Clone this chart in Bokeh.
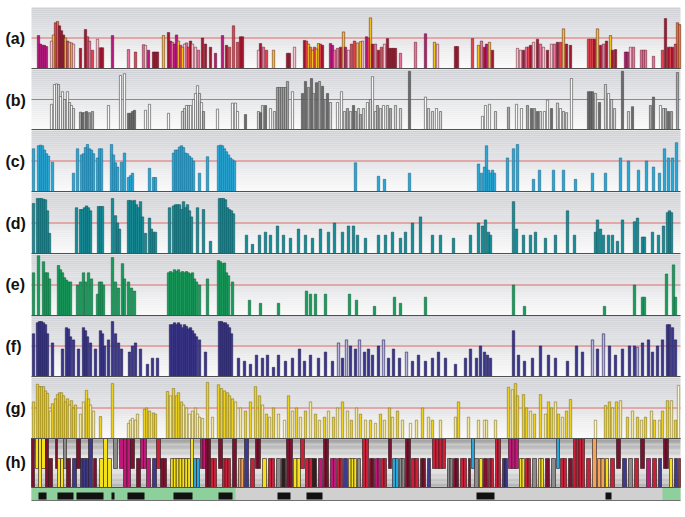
import numpy as np
from bokeh.plotting import figure
from bokeh.models import Range1d, ColumnDataSource, Label
from bokeh.embed import file_html
from bokeh.resources import INLINE

# ---------------- data ----------------
panel_labels = ["(a)", "(b)", "(c)", "(d)", "(e)", "(f)", "(g)", "(h)"]

a_x = [38, 40, 42, 44, 46, 51, 53, 55, 57, 59, 61, 63, 65, 67, 69, 71, 73, 80, 85, 87, 89, 92, 97, 100, 102,
       112, 128, 135, 143, 145, 148, 153, 155, 157, 163, 168, 170, 172, 174, 176, 178, 180, 182, 184, 186, 188,
       190, 192, 195, 198, 202, 205, 210, 215, 222, 226, 229, 233, 237, 240, 242, 258, 260, 263, 266, 273, 287,
       289, 294, 304, 306, 308, 310, 312, 314, 316, 318, 320, 322, 330, 332, 334, 337, 340, 343, 345, 348, 351,
       354, 357, 360, 362, 366, 368, 370, 372, 375, 378, 381, 384, 387, 389, 391, 393, 395, 400, 415, 425, 434,
       437, 455, 457, 472, 478, 481, 484, 486, 489, 492, 517, 520, 523, 526, 528, 530, 533, 537, 540, 543, 547,
       551, 554, 557, 560, 563, 566, 570, 588, 590, 592, 594, 597, 600, 603, 606, 610, 612, 615, 625, 627, 630,
       633, 641, 643, 645, 653, 662, 665, 668, 670, 672, 675, 677, 679]
a_h = [.54, .40, .38, .38, .36, .45, .55, .75, .77, .70, .62, .55, .50, .45, .43, .42, .40, .33, .64, .52, .45, .30,
       .48, .34, .34, .54, .31, .27, .39, .38, .30, .27, .27, .27, .54, .59, .45, .43, .40, .55, .45, .38, .35, .40,
       .42, .35, .45, .40, .35, .30, .50, .40, .35, .25, .54, .38, .35, .70, .43, .52, .52, .30, .41, .35, .30, .30,
       .25, .25, .35, .46, .45, .40, .35, .30, .35, .32, .41, .40, .38, .41, .38, .30, .33, .35, .60, .35, .30, .40,
       .45, .42, .44, .45, .52, .50, .83, .40, .40, .30, .35, .40, .49, .33, .33, .33, .33, .25, .43, .57, .43, .40,
       .36, .36, .49, .38, .45, .35, .40, .43, .30, .33, .30, .30, .35, .35, .38, .43, .48, .40, .35, .30, .40, .40,
       .43, .43, .65, .40, .38, .48, .48, .48, .48, .65, .38, .40, .45, .54, .30, .31, .27, .27, .35, .35, .30, .30,
       .30, .20, .30, .82, .35, .35, .35, .40, .75, .72]
a_c = ("MMMMM" "LYRODDDYRLYL" "DDRPRLDD" "MPRPLMDDD" "YDMPMMYRYLPRDLLP" "DDDMMDRRRDD" "LDPRYDDL"
       "DRYOYRYYRD" "MMPPDYMLRRYYLMRYDPDRLDDDDDP" "PMYLDD" "RYPDMYD" "LLDPRDLDPLDLPDRYDD"
       "RRRDYDPDYDD" "MMLPPPPP" "RDDRDROO")

b_x = [51, 54, 56, 58, 60, 62, 64, 67, 69, 71, 73, 80, 82, 84, 86, 89, 92, 108, 120, 124, 128, 130, 132, 134,
       145, 149, 168, 182, 184, 186, 188, 190, 193, 195, 197, 199, 201, 203, 217, 232, 235, 237, 245, 258, 260,
       262, 265, 270, 274, 277, 279, 281, 283, 285, 287, 292, 302, 305, 308, 311, 313, 316, 319, 322, 325, 327,
       330, 337, 341, 344, 347, 350, 353, 355, 358, 360, 363, 367, 370, 372, 375, 377, 380, 383, 387, 390, 395,
       400, 409, 425, 428, 432, 436, 440, 482, 485, 489, 495, 508, 516, 521, 527, 531, 534, 537, 540, 544, 547,
       551, 557, 560, 563, 566, 571, 588, 590, 592, 595, 599, 605, 608, 611, 614, 622, 628, 632, 650, 653, 660,
       663, 665, 668, 671, 677]
b_h = [.42, .75, .76, .75, .55, .63, .50, .63, .45, .40, .35, .29, .28, .28, .30, .28, .30, .40, .90, .93, .27, .27,
       .30, .32, .32, .42, .27, .30, .35, .40, .40, .40, .50, .60, .73, .60, .45, .30, .34, .44, .44, .30, .25, .30,
       .28, .40, .40, .35, .30, .70, .70, .70, .70, .70, .80, .63, .60, .80, .70, .85, .60, .78, .80, .72, .50, .60,
       .45, .45, .63, .30, .35, .30, .40, .30, .35, .25, .35, .45, .50, .88, .30, .40, .35, .40, .40, .35, .40, .35,
       .97, .54, .35, .30, .35, .30, .22, .40, .42, .30, .37, .42, .35, .40, .35, .35, .30, .30, .30, .49, .35, .44,
       .35, .30, .28, .85, .63, .63, .63, .60, .45, .75, .60, .50, .35, .97, .30, .38, .40, .54, .40, .35, .35, .30,
       .30, .95]
b_s = [0, 0, 0, 1, 0, 0, 1, 0, 1, 0, 1, 2, 3, 2, 3, 2, 2, 0, 0, 0, 3, 3, 3, 3, 0, 0, 0, 1, 1, 0, 1, 0, 0, 0, 0, 1,
       0, 2, 0, 0, 0, 0, 3, 1, 3, 1, 3, 0, 1, 2, 2, 2, 2, 2, 2, 0, 3, 3, 2, 3, 2, 3, 2, 3, 2, 3, 1, 0, 0, 1, 2, 1,
       3, 2, 1, 2, 1, 0, 1, 0, 1, 2, 1, 0, 1, 2, 1, 1, 3, 0, 1, 1, 0, 1, 0, 0, 0, 1, 2, 0, 0, 2, 3, 2, 3, 1, 0, 0,
       3, 1, 0, 1, 1, 0, 3, 3, 3, 1, 3, 1, 0, 1, 1, 3, 1, 3, 2, 3, 0, 1, 2, 3, 2, 2]

c_x = [33, 38, 40, 42, 44, 46, 48, 52, 73, 77, 81, 83, 85, 87, 89, 91, 93, 97, 99, 101, 111, 113, 115, 117, 121,
       124, 128, 130, 132, 149, 153, 155, 173, 175, 177, 179, 181, 183, 185, 187, 189, 191, 193, 199, 207, 218,
       220, 222, 224, 226, 228, 230, 232, 234, 355, 378, 384, 409, 478, 481, 484, 486, 488, 490, 492, 494, 507,
       513, 517, 533, 539, 553, 563, 575, 592, 605, 620, 628, 638, 646, 653, 659, 664, 668, 672, 676]
c_h = [.70, .75, .76, .75, .68, .62, .58, .48, .30, .70, .60, .62, .72, .77, .70, .68, .62, .55, .70, .70, .77, .60,
       .47, .40, .48, .63, .23, .26, .30, .38, .23, .23, .63, .68, .68, .73, .75, .72, .63, .62, .58, .55, .50, .30,
       .57, .75, .76, .75, .70, .65, .60, .55, .52, .50, .47, .25, .20, .30, .45, .30, .40, .75, .35, .30, .35, .30,
       .55, .70, .77, .20, .35, .35, .35, .20, .30, .30, .55, .50, .35, .50, .40, .30, .70, .55, .55, .80]

d_x = [33, 37, 39, 41, 43, 45, 47, 49, 76, 80, 82, 84, 86, 88, 90, 98, 100, 102, 112, 115, 117, 119, 128, 130,
       132, 134, 136, 138, 140, 142, 145, 149, 151, 153, 155, 169, 173, 175, 177, 179, 181, 183, 185, 187, 189,
       191, 197, 203, 210, 219, 221, 223, 225, 227, 229, 231, 233, 246, 252, 259, 265, 270, 277, 283, 290, 298,
       305, 312, 320, 328, 334, 342, 348, 353, 357, 365, 378, 385, 392, 400, 405, 412, 420, 432, 440, 453, 470,
       478, 482, 485, 488, 490, 513, 516, 523, 530, 535, 545, 555, 567, 574, 595, 597, 600, 603, 608, 612, 617,
       622, 634, 637, 642, 644, 652, 658, 663, 667, 669, 671]
d_h = [.82, .90, .90, .90, .89, .88, .70, .33, .75, .72, .72, .75, .78, .75, .70, .77, .77, .77, .90, .62, .50, .40,
       .87, .87, .86, .87, .80, .75, .85, .60, .33, .58, .40, .35, .35, .75, .78, .80, .80, .80, .72, .85, .75, .80,
       .70, .60, .75, .72, .20, .90, .90, .90, .88, .75, .72, .70, .65, .30, .15, .30, .35, .30, .45, .30, .25, .40,
       .30, .25, .40, .35, .50, .35, .45, .45, .30, .25, .30, .30, .35, .25, .35, .50, .60, .30, .30, .25, .30, .50,
       .45, .55, .35, .30, .85, .40, .30, .30, .35, .25, .30, .70, .30, .35, .55, .40, .30, .30, .30, .20, .55, .52,
       .58, .27, .27, .35, .30, .45, .67, .70, .67]

e_x = [33, 38, 43, 45, 47, 49, 58, 60, 62, 64, 66, 68, 70, 77, 80, 83, 85, 88, 91, 97, 99, 101, 103, 112, 115,
       118, 122, 124, 128, 131, 134, 168, 170, 172, 174, 176, 178, 180, 182, 184, 186, 188, 190, 192, 194, 196,
       199, 207, 218, 220, 222, 224, 226, 228, 232, 249, 260, 278, 306, 310, 315, 325, 349, 356, 374, 394, 400,
       425, 513, 524, 604, 634, 642, 644, 666, 673, 675]
e_h = [.70, .98, .88, .70, .70, .60, .82, .75, .70, .62, .58, .55, .55, .50, .55, .70, .55, .70, .60, .35, .55, .55,
       .50, .95, .55, .45, .85, .60, .55, .45, .40, .70, .72, .70, .75, .72, .75, .70, .72, .70, .72, .70, .68, .70,
       .60, .55, .50, .60, .90, .88, .85, .86, .70, .65, .55, .25, .20, .20, .40, .35, .35, .35, .35, .25, .15, .30,
       .20, .30, .50, .15, .15, .50, .30, .30, .68, .83, .30]

f_x = [33, 37, 39, 41, 43, 45, 47, 52, 62, 66, 68, 70, 73, 78, 83, 85, 87, 90, 95, 100, 102, 104, 108, 112, 115,
       118, 121, 129, 132, 135, 140, 147, 152, 157, 170, 172, 174, 176, 178, 180, 182, 184, 186, 188, 190, 192,
       194, 196, 199, 205, 219, 221, 223, 225, 227, 229, 231, 238, 244, 250, 256, 262, 267, 273, 278, 285, 292,
       299, 304, 310, 318, 325, 332, 338, 342, 346, 350, 355, 359, 364, 368, 372, 378, 383, 388, 393, 399, 406,
       412, 418, 425, 432, 438, 445, 455, 465, 470, 476, 480, 484, 487, 490, 513, 518, 524, 532, 540, 548, 555,
       567, 576, 582, 592, 597, 603, 609, 615, 622, 629, 634, 637, 642, 648, 652, 657, 662, 667, 669, 672, 675]
f_h = [.70, .88, .90, .90, .88, .85, .70, .55, .45, .80, .78, .65, .60, .45, .80, .75, .65, .55, .45, .75, .70, .50,
       .60, .90, .70, .55, .45, .40, .50, .55, .45, .20, .30, .30, .85, .85, .88, .85, .88, .85, .80, .85, .82, .78,
       .80, .75, .70, .65, .60, .40, .90, .90, .88, .88, .85, .80, .70, .30, .25, .20, .35, .30, .35, .15, .35, .25,
       .30, .45, .25, .35, .30, .40, .25, .55, .30, .60, .50, .45, .60, .40, .45, .35, .50, .60, .30, .45, .30, .40,
       .25, .35, .25, .30, .40, .30, .20, .30, .45, .30, .50, .40, .35, .30, .75, .35, .25, .30, .50, .35, .30, .25,
       .50, .40, .60, .45, .70, .50, .35, .45, .50, .50, .48, .55, .60, .40, .50, .60, .85, .85, .80, .60]
f_light = [338, 346, 359, 383, 406, 592, 603, 637]

g_x = [33, 37, 39, 41, 43, 45, 47, 50, 52, 55, 57, 59, 61, 63, 65, 67, 69, 71, 73, 75, 80, 83, 86, 88, 90, 93,
       100, 112, 128, 130, 132, 135, 137, 144, 146, 149, 153, 155, 167, 170, 173, 176, 178, 181, 183, 186, 189,
       192, 195, 197, 199, 202, 207, 212, 218, 221, 224, 227, 229, 232, 235, 240, 245, 250, 255, 259, 262, 266,
       269, 273, 278, 284, 288, 292, 296, 300, 305, 310, 315, 319, 324, 328, 333, 337, 342, 347, 351, 356, 360,
       365, 370, 375, 380, 384, 389, 392, 397, 402, 410, 416, 422, 428, 432, 440, 455, 458, 468, 478, 484, 486,
       495, 508, 512, 515, 517, 523, 526, 530, 534, 540, 545, 548, 551, 555, 558, 562, 566, 570, 595, 605, 609,
       612, 616, 620, 627, 632, 637, 641, 645, 651, 654, 659, 662, 667, 671, 675, 678]
g_h = [.60, .89, .85, .85, .85, .78, .74, .45, .57, .65, .72, .75, .75, .70, .60, .65, .55, .62, .50, .55, .40, .60,
       .79, .65, .55, .45, .36, .90, .25, .30, .33, .30, .40, .48, .50, .45, .42, .40, .77, .70, .82, .70, .75, .60,
       .55, .50, .40, .45, .50, .40, .35, .33, .92, .35, .88, .82, .78, .75, .70, .65, .60, .50, .45, .60, .85, .70,
       .55, .40, .35, .50, .40, .30, .70, .45, .50, .35, .45, .60, .40, .30, .35, .45, .35, .50, .60, .45, .30, .50,
       .40, .30, .30, .25, .40, .30, .50, .35, .45, .30, .25, .30, .50, .35, .30, .30, .35, .60, .35, .30, .30, .30,
       .30, .84, .80, .90, .70, .72, .50, .45, .40, .72, .40, .60, .50, .60, .40, .35, .45, .64, .30, .54, .60, .50,
       .60, .62, .35, .45, .35, .30, .35, .45, .30, .30, .45, .62, .62, .30, .87]
g_s = [0, 0, 0, 0, 0, 0, 0, 1, 0, 0, 0, 0, 0, 0, 0, 0, 1, 0, 0, 0, 1, 1, 0, 0, 1, 1, 0, 0, 1, 1, 2, 1, 1, 0, 0, 0,
       0, 0, 0, 1, 0, 0, 0, 0, 1, 1, 2, 1, 1, 2, 1, 1, 0, 1, 0, 0, 0, 0, 0, 0, 1, 1, 0, 0, 0, 0, 1, 0, 1, 0, 1, 2,
       0, 1, 0, 1, 0, 1, 0, 1, 0, 1, 0, 1, 0, 1, 0, 1, 0, 1, 0, 1, 0, 1, 0, 1, 0, 1, 2, 1, 0, 1, 0, 1, 1, 0, 1, 1,
       2, 1, 1, 0, 1, 0, 0, 0, 0, 1, 0, 0, 1, 0, 0, 1, 0, 1, 0, 0, 2, 0, 0, 1, 0, 1, 0, 1, 0, 1, 0, 1, 0, 1, 0, 0,
       1, 0, 2]

h_x0 = [31, 35, 38, 41, 45, 48, 55, 57, 63, 66, 72, 76, 80, 88, 93, 99, 103, 107, 113, 119, 123, 130, 136, 140,
        146, 152, 156, 160, 170, 190, 193, 200, 205, 210, 218, 222, 232, 238, 244, 250, 255, 262, 268, 276, 281,
        286, 293, 300, 305, 312, 318, 323, 330, 337, 343, 348, 357, 362, 369, 375, 381, 388, 392, 399, 405, 411,
        420, 427, 432, 447, 453, 460, 468, 471, 474, 479, 483, 488, 495, 502, 508, 519, 525, 532, 538, 545, 551,
        556, 560, 568, 573, 586, 592, 597, 605, 610, 616, 622, 628, 634, 640, 646, 652, 658, 663, 669, 674, 678]
h_x1 = [34, 38, 41, 45, 48, 52, 57, 63, 66, 70, 76, 80, 88, 92, 96, 103, 107, 111, 117, 123, 130, 134, 140, 146,
        150, 156, 160, 166, 190, 193, 199, 205, 210, 216, 222, 230, 236, 243, 248, 254, 260, 266, 274, 280, 285,
        292, 300, 304, 312, 316, 322, 328, 336, 342, 347, 356, 360, 368, 374, 380, 386, 391, 398, 404, 410, 418,
        425, 430, 445, 452, 458, 466, 470, 474, 478, 482, 487, 493, 500, 507, 518, 524, 530, 536, 543, 549, 555,
        559, 566, 572, 584, 590, 596, 604, 608, 614, 620, 626, 632, 638, 644, 650, 656, 661, 668, 672, 677, 680]
h_c = ("DYYYDDDYGD" "BDBBDYYYGM" "MDDMMBCDYY" "TMDCDCDOBC" "DYCGKDYCCK"
       "MDMCBYGCDM" "CDTGDCDBCG" "DCDTGYDCCB" "MYCGYDGTCD" "CCOOYCDBGC" "DMCBDYBC")
h_lv = ("2020210101" "1012112100" "2010110112" "1021012121" "0111121011"
        "1211111211" "1011211101" "1110111121" "0111111011" "2121110111" "01110111")

strip_green_x0 = [31, 662]
strip_green_x1 = [235, 680]
strip_black_x0 = [38, 57, 76, 111, 127, 173, 218, 277, 306, 476, 605]
strip_black_x1 = [46, 73, 103, 114, 144, 192, 232, 290, 322, 494, 611]

# ---------------- layout / styles ----------------
X0, X1 = 31, 680
panel_top = [7, 69, 130, 192, 254, 315, 377]
panel_base = [68, 129, 191, 253, 315, 376, 438]
h_top, h_mid_lo, h_mid_hi, h_base = 438, 458, 468, 487
strip_top, strip_bot = 487, 500
label_y = [38, 100, 161, 223, 284, 346, 408, 462]

A_COL = {"M": "#b5197f", "D": "#a0172f", "R": "#e2434c", "P": "#e8739f", "L": "#f5c3cf",
         "Y": "#f1c21c", "O": "#e5812a"}
B_COL = ["#f7f7f7", "#d3d3d3", "#a4a4a4", "#6a6a6a"]
G_COL = ["#ecd11e", "#f1e79e", "#faf6d6"]
H_COL = {"Y": "#f2e11c", "D": "#7b1230", "M": "#c2187c", "B": "#3b3a8e", "T": "#26a8da",
         "G": "#8c8c8c", "O": "#f2a55a", "C": "#cb2039", "K": "#2a2020"}


def hex2rgb(h):
    h = h.lstrip("#")
    return np.array([int(h[i:i + 2], 16) for i in (0, 2, 4)], float)


def mix(c1, c2, t):
    a, b = hex2rgb(c1), hex2rgb(c2)
    c = a + (b - a) * t
    return "#%02x%02x%02x" % tuple(int(round(v)) for v in c)


p = figure(width=682, height=503, x_range=Range1d(0, 682), y_range=Range1d(503, 0),
           x_axis_type=None, y_axis_type=None, output_backend="svg", toolbar_location=None,
           min_border=0)
p.grid.visible = False
p.outline_line_color = None
p.background_fill_color = "white"
p.border_fill_color = "white"


def gradient(top, base, c_top, c_bot, n=30):
    edges = np.linspace(top, base, n + 1)
    cols = [mix(c_top, c_bot, (i + 0.5) / n) for i in range(n)]
    p.quad(left=X0, right=X1, top=edges[:-1], bottom=edges[1:], fill_color=cols, line_color=None)


def draw_bars(xs, hs, fills, line, top, base, w=2.4, lw=0.6):
    n = min(len(xs), len(hs), len(fills))
    xs = np.asarray(xs[:n], float)
    hs = np.asarray(hs[:n], float)
    fills = list(fills[:n])
    o = np.argsort(-hs, kind="stable")
    xs, hs = xs[o], hs[o]
    fills = [fills[i] for i in o]
    src = ColumnDataSource(dict(left=xs - w / 2, right=xs + w / 2,
                                top=base - hs * (base - top),
                                bottom=np.full(n, float(base)), fill=fills))
    p.quad(left="left", right="right", top="top", bottom="bottom", fill_color="fill",
           line_color=line, line_width=lw, source=src)


# backgrounds + red reference lines
for t, b in zip(panel_top, panel_base):
    gradient(t, b, "#cfd0d5", "#fafafa")
    p.segment(x0=X0, x1=X1, y0=(t + b) / 2, y1=(t + b) / 2, line_color="#e06a6a", line_width=1)

draw_bars(a_x, a_h, [A_COL[c] for c in a_c], "#5a1424", panel_top[0], panel_base[0], w=2.4, lw=0.5)
draw_bars(b_x, b_h, [B_COL[s] for s in b_s], "#4a4a4a", panel_top[1], panel_base[1], w=2.2, lw=0.6)
draw_bars(c_x, c_h, ["#2ba7d6"] * len(c_x), "#176c8f", panel_top[2], panel_base[2], w=2.4)
draw_bars(d_x, d_h, ["#178b96"] * len(d_x), "#0c5860", panel_top[3], panel_base[3], w=2.4)
draw_bars(e_x, e_h, ["#1b9a5c"] * len(e_x), "#0e6a3c", panel_top[4], panel_base[4], w=2.4)
draw_bars(f_x, f_h, ["#b9b6dc" if x in f_light else "#3a3689" for x in f_x], "#221f5a",
          panel_top[5], panel_base[5], w=2.4)
draw_bars(g_x, g_h, [G_COL[s] for s in g_s], "#857426", panel_top[6], panel_base[6], w=2.4, lw=0.6)

for b in panel_base:
    p.segment(x0=X0, x1=X1, y0=b, y1=b, line_color="#505050", line_width=1.2)

# panel (h)
gradient(h_top, 462, "#9e9e9e", "#f2f2f2", n=20)
gradient(462, h_base, "#f6f6f6", "#b0b0b0", n=20)
lv_top = {"0": h_top, "1": h_mid_lo, "2": h_top}
lv_bot = {"0": h_mid_hi, "1": h_base, "2": h_base}
sl, sr, st, sb, sc = [], [], [], [], []
for x0, x1, c, lv in zip(h_x0, h_x1, h_c, h_lv):
    k = max(1, int(round((x1 - x0) / 3.0)))
    ed = np.linspace(x0, x1, k + 1)
    for i in range(k):
        sl.append(ed[i]); sr.append(ed[i + 1])
        st.append(lv_top[lv]); sb.append(lv_bot[lv]); sc.append(H_COL[c])
p.quad(left=sl, right=sr, top=st, bottom=sb, fill_color=sc, line_color="#2a1818", line_width=0.6)
p.segment(x0=X0, x1=X1, y0=h_top, y1=h_top, line_color="#505050", line_width=1)

# bottom strip
p.quad(left=X0, right=X1, top=strip_top, bottom=strip_bot, fill_color="#d0d0d0", line_color=None)
p.quad(left=strip_green_x0, right=strip_green_x1, top=strip_top, bottom=strip_bot,
       fill_color="#8ed09c", line_color=None)
p.quad(left=strip_black_x0, right=strip_black_x1, top=492, bottom=499,
       fill_color="#111111", line_color=None)
p.segment(x0=X0, x1=X1, y0=strip_top, y1=strip_top, line_color="#505050", line_width=1.2)
p.segment(x0=X0, x1=X1, y0=strip_bot, y1=strip_bot, line_color="#707070", line_width=1)

# panel labels
for lab, y in zip(panel_labels, label_y):
    p.add_layout(Label(x=5, y=y, text=lab, text_font="Liberation Sans", text_font_size="16px",
                       text_font_style="bold", text_baseline="middle", text_align="left",
                       text_color="#111111"))

open("out.html", "w").write(file_html(p, INLINE))
